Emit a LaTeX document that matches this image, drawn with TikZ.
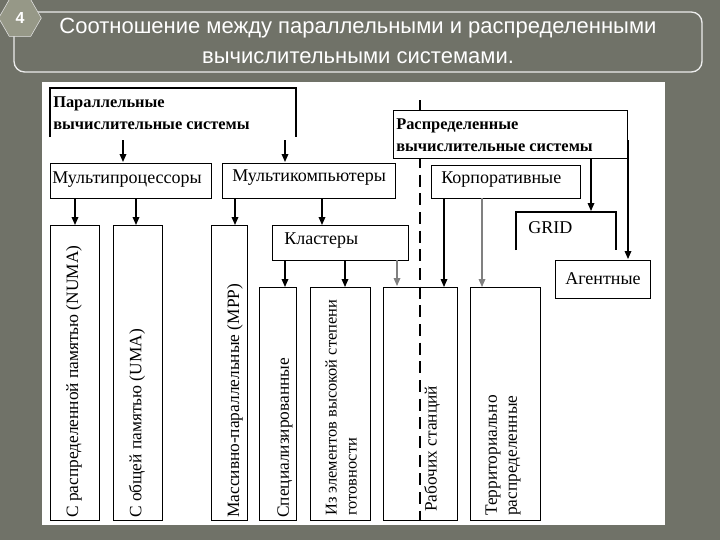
\documentclass[tikz,border=0pt]{standalone}
\usepackage{fontspec}
\setmainfont{Liberation Serif}
\newfontfamily\titlefont{Liberation Sans}
\usetikzlibrary{arrows.meta,shapes.geometric}
\begin{document}
\begin{tikzpicture}[x=0.75pt,y=-0.75pt,
  bx/.style={draw=black,line width=0.8pt},
  ar/.style={-{Triangle[length=6pt,width=5pt]},line width=0.9pt},
  lab/.style={font=\fontsize{13.5}{15}\selectfont,anchor=west,inner sep=0pt},
  blab/.style={font=\fontsize{12.3}{17}\selectfont\bfseries,anchor=north west,align=left,inner sep=0pt},
  vlab/.style={font=\fontsize{13}{15}\selectfont,rotate=90,anchor=west,align=left,inner sep=0pt}]
\fill[fill={rgb,255:red,112;green,114;blue,104}] (0,0) rectangle (720,540);
\useasboundingbox (0,0) rectangle (720,540);
% title
\draw[white!85!gray,line width=1pt,rounded corners=8pt] (14,12) rectangle (702,72);
\node[regular polygon,regular polygon sides=6,fill={rgb,255:red,150;green,152;blue,135},draw=white!80!gray,minimum size=32pt,inner sep=0pt] (hex) at (20,18) {};
\node[font=\titlefont\bfseries\fontsize{12}{14}\selectfont,text=white] (num) at (hex) {4};
\node[font=\titlefont\fontsize{16.5}{22}\selectfont,text=white,align=center] (title) at (358,41) {Соотношение между параллельными и распределенными\\вычислительными системами.};
% panel
\fill[white] (42,82) rectangle (665,525);
% parallel open box
\coordinate (p1) at (50,137); \coordinate (p2) at (50,88); \coordinate (p3) at (296,88); \coordinate (p4) at (296,137);
\draw[bx] (p1) -- (p2) -- (p3) -- (p4);
\node[blab] (par) at (53,96) {Параллельные\\вычислительные системы};
% dashed
\coordinate (d1) at (420,100); \coordinate (d2) at (420,520);
\draw[line width=2pt,dash pattern=on 9pt off 5pt] (d1) -- (d2);
% distributed
\node[bx,fill=white,minimum width=175.5pt,minimum height=36pt,anchor=north west] (dist) at (393,110) {};
\node[blab] (distt) at (396,118) {Распределенные\\вычислительные системы};
% row 2
\node[bx,minimum width=120.75pt,minimum height=26.25pt,anchor=north west] (mp) at (50,163) {};
\node[lab] at (52,180) {Мультипроцессоры};
\node[bx,minimum width=129.75pt,minimum height=26.25pt,anchor=north west] (mc) at (222,163) {};
\node[lab] at (232,178) {Мультикомпьютеры};
\node[bx,minimum width=111.75pt,minimum height=24.75pt,anchor=north west] (corp) at (431,165) {};
\node[lab] at (441,180) {Корпоративные};
% arrows to row 2
\coordinate (a1) at (123,140); \coordinate (a2) at (285,140);
\draw[ar] (a1) -- (123,162);
\draw[ar] (a2) -- (285,162);
% GRID open box
\draw[bx] (516,250) -- (516,212) -- (616,212) -- (616,250);
\node[lab] (grid) at (528,228) {GRID};
\coordinate (g0) at (591,158);
\draw[ar] (g0) -- (591,211);
\node[bx,minimum width=71.25pt,minimum height=28.5pt,anchor=north west] (ag) at (555,260) {};
\node[lab] at (565,279) {Агентные};
\coordinate (g1) at (628,140);
\draw[ar] (g1) -- (628,259);
% Clusters
\node[bx,minimum width=102pt,minimum height=26.25pt,anchor=north west] (cl) at (272,225) {};
\node[lab] at (284,241) {Кластеры};
% vertical boxes
\node[bx,minimum width=36.75pt,minimum height=221pt,anchor=north west] (v1) at (50,225) {};
\node[bx,minimum width=36.75pt,minimum height=221pt,anchor=north west] (v2) at (113,225) {};
\node[bx,minimum width=27pt,minimum height=221pt,anchor=north west] (v3) at (211,225) {};
\node[bx,minimum width=27.75pt,minimum height=174.75pt,anchor=north west] (v4) at (259,287) {};
\node[bx,minimum width=45pt,minimum height=174.75pt,anchor=north west] (v5) at (310,287) {};
\node[bx,minimum width=55.5pt,minimum height=174.75pt,anchor=north west] (v6) at (383,287) {};
\node[bx,minimum width=52.5pt,minimum height=174.75pt,anchor=north west] (v7) at (470,287) {};
\node[vlab] at (74,518) {С распределенной памятью (NUMA)};
\node[vlab] at (137,518) {С общей памятью (UMA)};
\node[vlab] at (235,518) {Массивно-параллельные (MPP)};
\node[vlab] at (285,518) {Специализированные};
\node[vlab,font=\fontsize{12.3}{15}\selectfont] at (341,516) {Из элементов высокой степени\\готовности};
\node[vlab] at (432,512) {Рабочих станций};
\node[vlab] at (503,516) {Территориально\\распределенные};
% arrows from row 2
\draw[ar] (75,198) -- (v1.north -| 75,0);
\draw[ar] (136,198) -- (v2.north -| 136,0);
\draw[ar] (235,198) -- (v3.north -| 235,0);
\draw[ar] (322,198) -- (cl.north -| 322,0);
\draw[ar] (285,260) -- (v4.north -| 285,0);
\draw[ar] (345,260) -- (v5.north -| 345,0);
\draw[ar,gray] (397,260) -- (397,286);
\draw[ar] (444,198) -- (v6.north -| 444,0);
\draw[ar,gray] (482,198) -- (v7.north -| 482,0);
\end{tikzpicture}
\end{document}
